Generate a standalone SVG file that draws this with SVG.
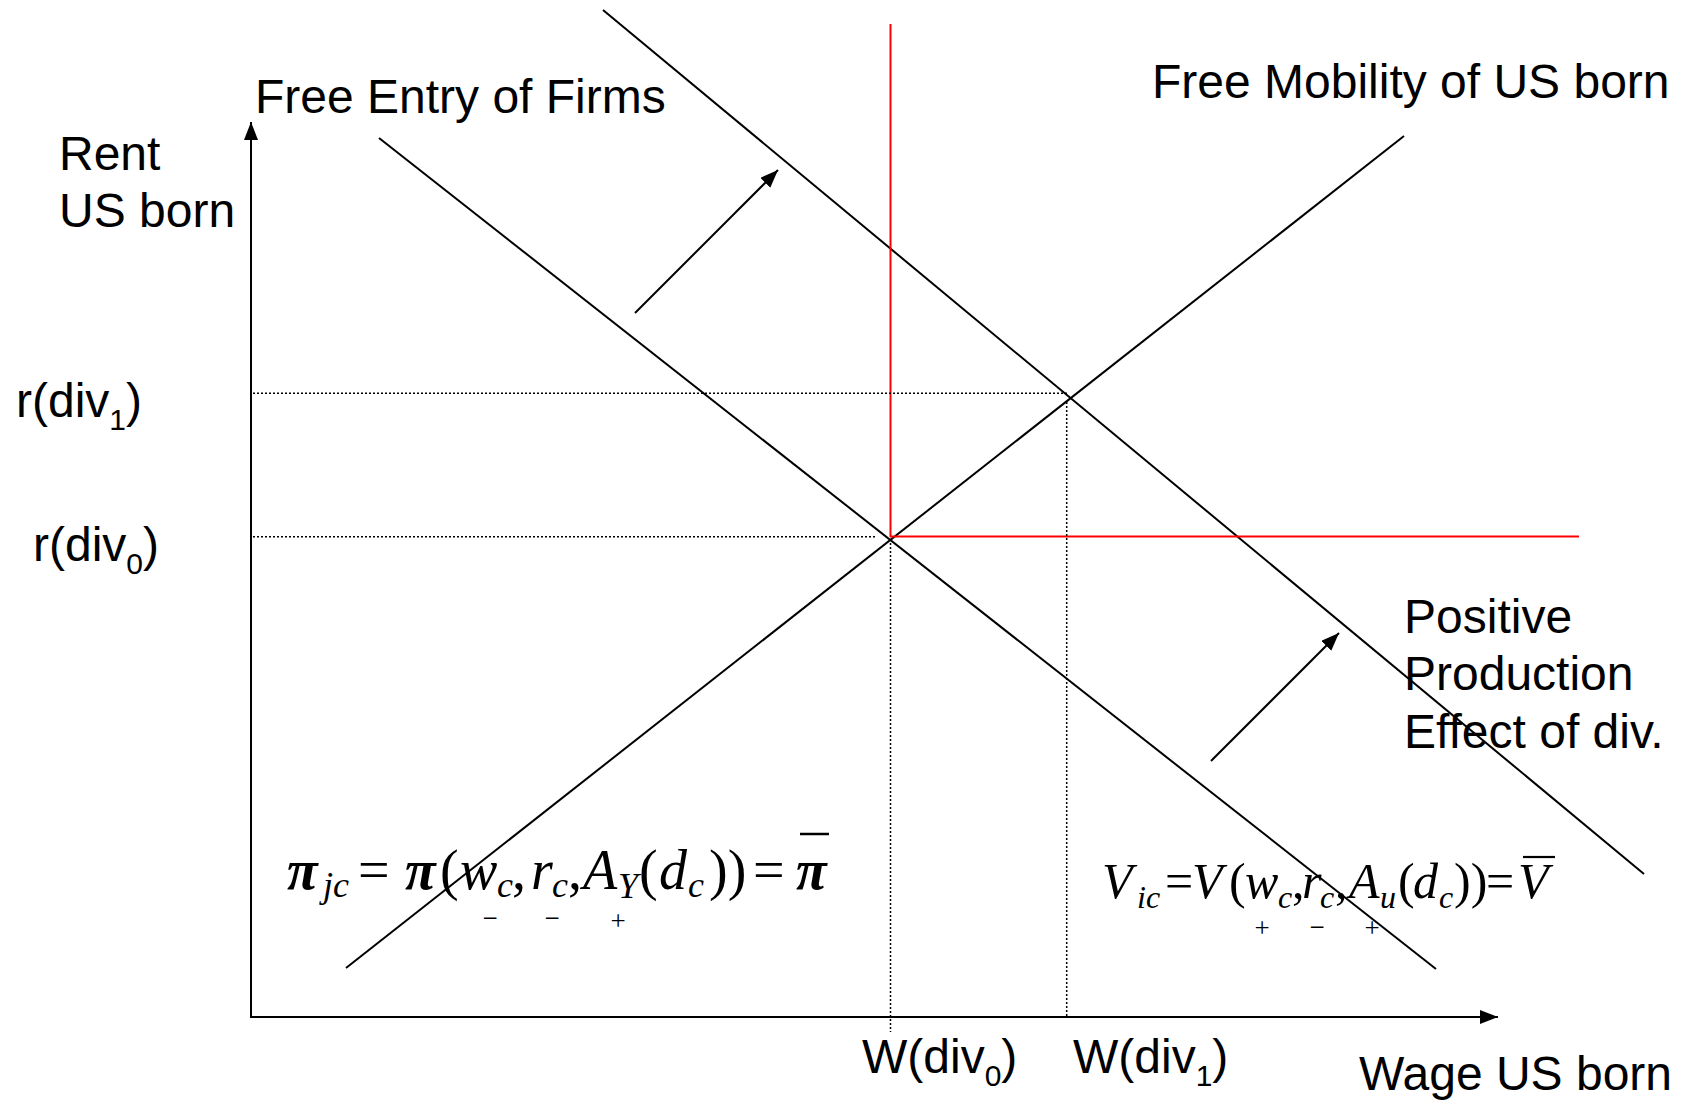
<svg xmlns="http://www.w3.org/2000/svg" width="1689" height="1101" viewBox="0 0 1689 1101">
<style>
.lbl{font-family:"Liberation Sans",Arial,sans-serif;font-size:48px;fill:#000}
.sub{font-size:30px}
.ln{stroke:#000;stroke-width:2;fill:none}
.red{stroke:#ff0000;stroke-width:2;fill:none}
.dot{stroke:#000;stroke-width:1.5;stroke-dasharray:2 2;fill:none}
.m{font-family:"Liberation Serif","Times New Roman",serif;fill:#000}
.i{font-style:italic}
.n{font-style:normal}
.pi{font-weight:bold}
.e1{font-size:56px}
.s1{font-size:36px}
.e2{font-size:50px}
.s2{font-size:32px}
.sg{font-family:"Liberation Serif","Times New Roman",serif;font-size:27px;text-anchor:middle}
</style>
<defs>
<marker id="ah" markerUnits="userSpaceOnUse" markerWidth="20" markerHeight="16" refX="18" refY="7" orient="auto">
<path d="M0,0 L18,7 L0,14 Z" fill="#000"/>
</marker>
</defs>
<rect width="1689" height="1101" fill="#fff"/>
<g id="axes">
<line class="ln" x1="251" y1="1017" x2="251" y2="122" marker-end="url(#ah)"/>
<line class="ln" x1="250" y1="1017" x2="1498" y2="1017" marker-end="url(#ah)"/>
</g>
<g id="connectors">
<line id="free-entry" class="ln" x1="379" y1="138" x2="1436" y2="969"/>
<line id="free-entry-shifted" class="ln" x1="603" y1="10" x2="1644" y2="874"/>
<line id="free-mobility" class="ln" x1="346" y1="968" x2="1404" y2="136"/>
<line class="red" x1="890.5" y1="24" x2="890.5" y2="537"/>
<line class="red" x1="890" y1="536.5" x2="1579" y2="536.5"/>
<line class="dot" x1="253" y1="393.3" x2="1068" y2="393.3"/>
<line class="dot" x1="253" y1="536.7" x2="876" y2="536.7"/>
<line class="dot" x1="890.5" y1="543" x2="890.5" y2="1032"/>
<line class="dot" x1="1066.7" y1="402" x2="1066.7" y2="1016"/>
<line class="ln" x1="635" y1="313" x2="778" y2="170" marker-end="url(#ah)"/>
<line class="ln" x1="1211" y1="761" x2="1339" y2="633" marker-end="url(#ah)"/>
</g>
<g id="labels">
<text id="free-entry-label" class="lbl" x="255" y="113">Free Entry of Firms</text>
<text id="free-mobility-label" class="lbl" x="1152" y="98">Free Mobility of US born</text>
<text id="y-label" class="lbl" x="59"><tspan x="59" y="170">Rent</tspan><tspan x="59" y="227">US born</tspan></text>
<text id="x-label" class="lbl" x="1359" y="1090">Wage US born</text>
<text id="r1" class="lbl" x="16" y="417">r(div<tspan class="sub" dy="13">1</tspan><tspan dy="-13">)</tspan></text>
<text id="r0" class="lbl" x="33" y="561">r(div<tspan class="sub" dy="13">0</tspan><tspan dy="-13">)</tspan></text>
<text id="w0" class="lbl" x="862" y="1073">W(div<tspan class="sub" dy="13">0</tspan><tspan dy="-13">)</tspan></text>
<text id="w1" class="lbl" x="1073" y="1073">W(div<tspan class="sub" dy="13">1</tspan><tspan dy="-13">)</tspan></text>
<text id="positive-label" class="lbl"><tspan x="1404" y="633">Positive</tspan><tspan x="1404" y="690">Production</tspan><tspan x="1404" y="748">Effect of div.</tspan></text>
</g>
<g id="equation-profit">
<text class="m i e1"><tspan class="pi" x="287" y="889">π</tspan><tspan class="s1" x="323" y="897">jc</tspan><tspan class="n" x="358" y="889">=</tspan><tspan class="pi" x="405" y="889">π</tspan><tspan class="n" x="440" y="889">(</tspan><tspan x="460" y="889">w</tspan><tspan class="s1" x="497" y="897">c</tspan><tspan class="n" x="512" y="889">,</tspan><tspan x="531" y="889">r</tspan><tspan class="s1" x="552" y="897">c</tspan><tspan class="n" x="568" y="889">,</tspan><tspan x="583" y="889">A</tspan><tspan class="s1" x="618" y="898">Y</tspan><tspan class="n" x="639" y="889">(</tspan><tspan x="659" y="889">d</tspan><tspan class="s1" x="688" y="897">c</tspan><tspan class="n" x="709" y="889">))</tspan><tspan class="n" x="753" y="889">=</tspan><tspan class="pi" x="796" y="889">π</tspan></text>
<line x1="800" y1="834" x2="829" y2="834" stroke="#000" stroke-width="2.5"/>
<text class="sg"><tspan x="490" y="927">−</tspan><tspan x="552" y="927">−</tspan><tspan x="618" y="930">+</tspan></text>
</g>
<g id="equation-utility">
<text class="m i e2"><tspan x="1102" y="898">V</tspan><tspan class="s2" x="1137" y="908">ic</tspan><tspan class="n" x="1165" y="898">=</tspan><tspan x="1192" y="898">V</tspan><tspan class="n" x="1229" y="898">(</tspan><tspan x="1245" y="898">w</tspan><tspan class="s2" x="1278" y="908">c</tspan><tspan class="n" x="1292" y="898">,</tspan><tspan x="1302" y="898">r</tspan><tspan class="s2" x="1320" y="908">c</tspan><tspan class="n" x="1335" y="898">,</tspan><tspan x="1349" y="898">A</tspan><tspan class="s2" x="1380" y="908">u</tspan><tspan class="n" x="1398" y="898">(</tspan><tspan x="1413" y="898">d</tspan><tspan class="s2" x="1439" y="908">c</tspan><tspan class="n" x="1454" y="898">))</tspan><tspan class="n" x="1486" y="898">=</tspan><tspan x="1518" y="898">V</tspan></text>
<line x1="1523" y1="857" x2="1555" y2="857" stroke="#000" stroke-width="2.2"/>
<text class="sg"><tspan x="1262" y="937">+</tspan><tspan x="1317" y="936">−</tspan><tspan x="1372" y="937">+</tspan></text>
</g>
</svg>
